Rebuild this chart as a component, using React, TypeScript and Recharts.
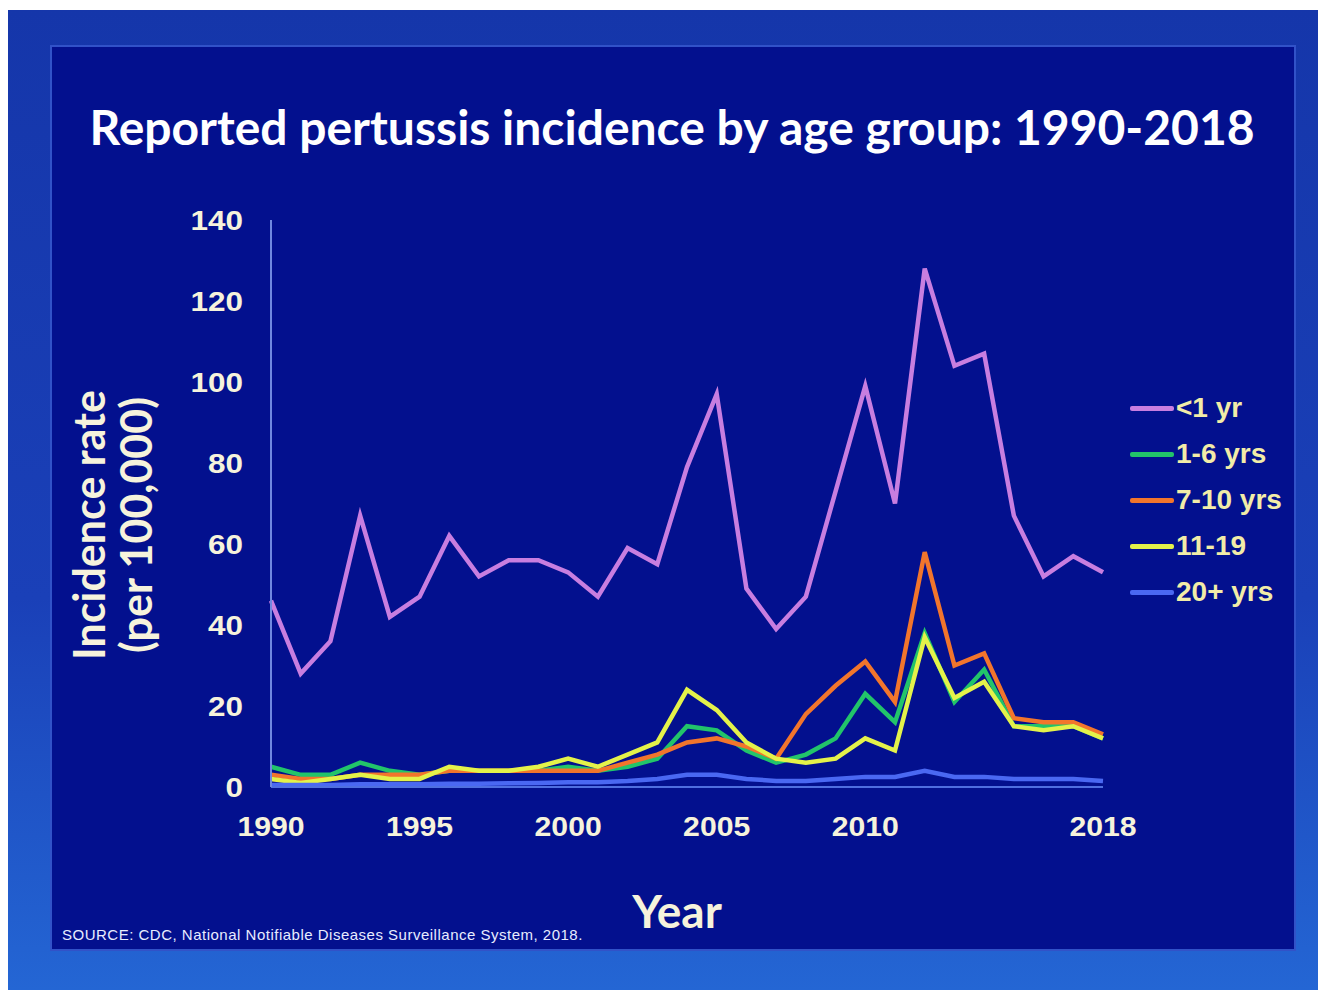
import React from 'react';
import { LineChart, Line, XAxis, YAxis, Legend } from 'recharts';

const years = [1990, 1991, 1992, 1993, 1994, 1995, 1996, 1997, 1998, 1999, 2000, 2001, 2002, 2003, 2004, 2005, 2006, 2007, 2008, 2009, 2010, 2011, 2012, 2013, 2014, 2015, 2016, 2017, 2018];
const under1 = [46, 28, 36, 67, 42, 47, 62, 52, 56, 56, 53, 47, 59, 55, 79, 97, 49, 39, 47, 73, 99, 70, 128, 104, 107, 67, 52, 57, 53];
const age1to6 = [5, 3, 3, 6, 4, 3, 4, 4, 4, 4, 5, 4, 5, 7, 15, 14, 9, 6, 8, 12, 23, 16, 38, 21, 29, 15, 15, 15, 12];
const age7to10 = [3, 2, 2, 3, 3, 3, 4, 4, 4, 4, 4, 4, 6, 8, 11, 12, 10, 7, 18, 25, 31, 21, 58, 30, 33, 17, 16, 16, 13];
const age11to19 = [2, 1, 2, 3, 2, 2, 5, 4, 4, 5, 7, 5, 8, 11, 24, 19, 11, 7, 6, 7, 12, 9, 37, 22, 26, 15, 14, 15, 12];
const age20plus = [0.5, 0.5, 0.5, 0.7, 0.7, 0.7, 0.8, 0.8, 0.9, 1, 1.2, 1.2, 1.5, 2, 3, 3, 2, 1.5, 1.5, 2, 2.5, 2.5, 4, 2.5, 2.5, 2, 2, 2, 1.5];

const seriesKeys = ['under1', 'age1to6', 'age7to10', 'age11to19', 'age20plus'];
const seriesNames = ['<1 yr', '1-6 yrs', '7-10 yrs', '11-19', '20+ yrs'];
const seriesColors = ['#c87ee0', '#22c46a', '#f2752c', '#e4f24a', '#4a68f2'];
const seriesValues = [under1, age1to6, age7to10, age11to19, age20plus];

const xTicks = [1990, 1995, 2000, 2005, 2010, 2018];
const yTicks = [0, 20, 40, 60, 80, 100, 120, 140];

const data = years.map((year, i) => {
  const row: Record<string, number> = { year };
  seriesKeys.forEach((k, j) => {
    row[k] = seriesValues[j][i];
  });
  return row;
});

const textColor = '#f6f3dc';

const XTick = (props: any) => {
  const { x, y, payload } = props;
  const s = String(payload.value);
  return (
    <text x={x} y={y} dy={41} textAnchor="middle" fill={textColor} fontSize={28} fontWeight={700} fontFamily="'Liberation Sans', Arial, sans-serif" textLength={s.length * 16.8} lengthAdjust="spacingAndGlyphs">
      {s}
    </text>
  );
};

const YTick = (props: any) => {
  const { x, y, payload } = props;
  const s = String(payload.value);
  return (
    <text x={x} y={y} dx={-20} dy={10} textAnchor="end" fill={textColor} fontSize={28} fontWeight={700} fontFamily="'Liberation Sans', Arial, sans-serif" textLength={s.length * 17.5} lengthAdjust="spacingAndGlyphs">
      {s}
    </text>
  );
};

const LegendContent = () => (
  <div style={{ display: 'flex', flexDirection: 'column' }}>
    {seriesNames.map((name, i) => (
      <div key={name} style={{ display: 'flex', alignItems: 'center', height: 46 }}>
        <div style={{ width: 44, height: 5, background: seriesColors[i], borderRadius: 2 }} />
        <span style={{ marginLeft: 2, color: '#f2eca8', fontSize: 28, fontWeight: 700, fontFamily: "'Liberation Sans', Arial, sans-serif", whiteSpace: 'nowrap' }}>
          {name}
        </span>
      </div>
    ))}
  </div>
);

export default function App() {
  return (
    <div style={{ position: 'absolute', left: 0, top: 0, width: 1325, height: 993, background: '#ffffff', overflow: 'hidden' }}>
      <div style={{ position: 'absolute', left: 8, top: 10, width: 1310, height: 980, background: 'linear-gradient(180deg, #1536aa 0%, #1a40b8 60%, #2466d4 100%)' }} />
      <div style={{ position: 'absolute', left: 50, top: 45, width: 1246, height: 906, background: '#03108e', border: '2px solid #3152c8', boxSizing: 'border-box' }} />
      <div style={{ position: 'absolute', left: 0, top: 0, width: 1325, height: 993 }}>
        <LineChart width={1325} height={993} data={data} margin={{ top: 220, right: 222, bottom: 166, left: 211 }}>
          <XAxis
            dataKey="year"
            type="number"
            domain={[1990, 2018]}
            ticks={xTicks}
            tick={<XTick />}
            tickLine={false}
            axisLine={{ stroke: '#4f6fe0', strokeWidth: 2 }}
            height={40}
            interval={0}
          />
          <YAxis
            type="number"
            domain={[0, 140]}
            ticks={yTicks}
            tick={<YTick />}
            tickLine={false}
            axisLine={{ stroke: '#7088e0', strokeWidth: 2 }}
            width={60}
            interval={0}
          />
          <Legend layout="vertical" align="center" verticalAlign="middle" content={<LegendContent />} wrapperStyle={{ left: 1130, top: 385, width: 190 }} />
          {seriesKeys.map((k, i) => (
            <Line
              key={k}
              type="linear"
              dataKey={k}
              name={seriesNames[i]}
              stroke={seriesColors[i]}
              strokeWidth={4.5}
              dot={false}
              isAnimationActive={false}
            />
          ))}
        </LineChart>
      </div>
      <div style={{ position: 'absolute', left: 0, top: 98, width: 1344, textAlign: 'center', color: '#ffffff', fontSize: 48, lineHeight: '58px', fontWeight: 700, fontFamily: 'Lato, sans-serif' }}>
        Reported pertussis incidence by age group: 1990-2018
      </div>
      <div style={{ position: 'absolute', left: 112, top: 525, width: 0, height: 0 }}>
        <div style={{ position: 'absolute', transform: 'translate(-50%, -50%) rotate(-90deg)', whiteSpace: 'nowrap', textAlign: 'center', color: textColor, fontSize: 43, lineHeight: '47px', fontWeight: 700, fontFamily: 'Lato, sans-serif' }}>
          Incidence rate
          <br />
          (per 100,000)
        </div>
      </div>
      <div style={{ position: 'absolute', left: 677, top: 910, width: 0, height: 0 }}>
        <div style={{ position: 'absolute', transform: 'translate(-50%, -50%)', whiteSpace: 'nowrap', color: textColor, fontSize: 46, fontWeight: 700, fontFamily: 'Lato, sans-serif' }}>
          Year
        </div>
      </div>
      <div style={{ position: 'absolute', left: 62, top: 926, whiteSpace: 'nowrap', color: '#e8ecff', fontSize: 15, letterSpacing: 0.5, fontFamily: "'Liberation Sans', Arial, sans-serif" }}>
        SOURCE: CDC, National Notifiable Diseases Surveillance System, 2018.
      </div>
    </div>
  );
}
